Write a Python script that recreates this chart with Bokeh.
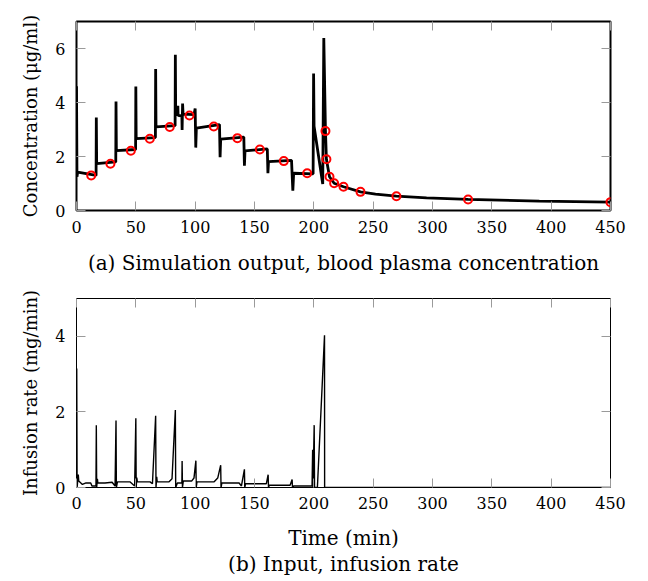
from bokeh.plotting import figure
from bokeh.layouts import column
from bokeh.models import Range1d, LinearAxis, FixedTicker, Title
from bokeh.embed import file_html
from bokeh.resources import INLINE

# ---------------- data ----------------
x_ticks = [0, 50, 100, 150, 200, 250, 300, 350, 400, 450]
conc_ticks = [0, 2, 4, 6]
rate_ticks = [0, 2, 4]

# simulated plasma concentration (time in min, conc in ug/ml)
conc_t = [0, 0.4, 1.0, 16.5, 16.7, 17.0, 33.1, 33.3, 33.6, 49.8, 50.0, 50.3,
          66.5, 66.7, 67.0, 83.1, 83.3, 83.6, 85.2, 85.4, 85.6, 88.8, 89.0,
          89.4, 89.8, 99.0, 100.0, 100.5, 101.0, 120.5, 121.0, 121.5, 141.0,
          141.5, 142.0, 160.8, 161.3, 161.8, 181.2, 182.3, 183.0, 199.4, 199.8,
          200.2, 207.5, 208.4, 209.8, 210.6, 213.2, 217.1, 225.0, 239.3, 252.0,
          269.6, 295.0, 330.0, 390.0, 450.0]
conc_v = [4.60, 1.25, 1.42, 1.30, 3.44, 1.74, 1.80, 4.04, 2.22, 2.26, 4.59, 2.66,
          2.70, 5.24, 3.10, 3.14, 5.77, 3.57, 3.55, 3.88, 3.52, 3.50, 2.98,
          3.96, 3.57, 3.55, 3.78, 2.33, 3.05, 3.18, 1.97, 2.64, 2.72,
          1.66, 2.21, 2.28, 1.38, 1.81, 1.86, 0.73, 1.38, 1.36, 5.07,
          3.12, 0.98, 6.39, 2.94, 1.90, 1.25, 1.01, 0.88, 0.69, 0.61,
          0.53, 0.47, 0.41, 0.35, 0.31]

# measured samples
sample_t = [12.4, 28.6, 45.8, 61.8, 78.6, 95.2, 115.7, 135.6, 154.5, 174.7,
            194.4, 209.8, 210.6, 213.2, 217.1, 225.0, 239.3, 269.6, 330.0, 450.0]
sample_v = [1.30, 1.73, 2.21, 2.66, 3.09, 3.52, 3.11, 2.68, 2.26, 1.83,
            1.38, 2.94, 1.90, 1.25, 1.01, 0.88, 0.69, 0.53, 0.41, 0.31]

# infusion rate (mg/min)
rate_t = [0, 0.2, 0.5, 1.5, 1.9, 5.0, 8.0, 12.0, 13.0, 16.4, 16.7, 17.0, 17.6,
          18.0, 24.0, 30.0, 32.5, 33.3, 33.6, 34.5, 45.0, 49.0, 50.0, 50.3,
          50.8, 51.3, 62.0, 64.0, 66.7, 67.0, 67.6, 68.0, 78.0, 80.5, 83.3,
          83.6, 85.0, 88.8, 89.0, 89.3, 90.0, 97.0, 99.0, 100.6, 100.9, 101.5,
          116.0, 119.0, 121.5, 121.8, 122.5, 137.0, 139.0, 141.5, 141.8, 142.5,
          160.0, 161.5, 161.8, 162.5, 180.0, 181.7, 182.0, 183.0, 198.5, 199.0,
          199.3, 200.3, 200.6, 203.0, 209.0, 209.1, 450.0]
rate_v = [0, 3.15, 0, 0.34, 0.17, 0.08, 0.12, 0.12, 0.04, 0.04, 1.65, 0, 0.23,
          0.12, 0.12, 0.14, 0.04, 1.77, 0, 0.15, 0.15, 0.04, 1.83, 0,
          0.26, 0.15, 0.15, 0.10, 1.90, 0, 0.28, 0.15, 0.15, 0.23, 2.05,
          0, 0.12, 0.12, 0.70, 0, 0.17, 0.17, 0.25, 0.71, 0, 0.15,
          0.15, 0.25, 0.59, 0, 0.12, 0.12, 0.04, 0.48, 0, 0.10,
          0.10, 0.34, 0, 0.06, 0.06, 0.21, 0, 0.04, 0.04, 1.00,
          0, 1.65, 0, 0, 4.03, 0, 0]

FONT = "DejaVu Serif"
TICK_FS = "16px"
LABEL_FS = "18px"
CAP_FS = "20px"
TICK_COLOR = "#9a9a9a"


def style(p, yticks, ylabel, outline_w):
    xax = p.below[0]
    yax = p.left[0]
    p.outline_line_color = "black"
    p.outline_line_width = outline_w
    p.xgrid.visible = False
    p.ygrid.visible = False
    xax.ticker = FixedTicker(ticks=x_ticks)
    yax.ticker = FixedTicker(ticks=yticks)
    yax.axis_label = ylabel
    for ax in (xax, yax):
        ax.axis_line_color = None
        ax.major_tick_in = 9
        ax.major_tick_out = 0
        ax.major_tick_line_color = TICK_COLOR
        ax.minor_tick_line_color = None
        ax.major_label_text_font = FONT
        ax.major_label_text_font_size = TICK_FS
        ax.major_label_text_color = "black"
        ax.axis_label_text_font = FONT
        ax.axis_label_text_font_size = LABEL_FS
        ax.axis_label_text_font_style = "normal"
        ax.axis_label_text_color = "black"
    xax.major_label_standoff = 10
    yax.major_label_standoff = 11
    yax.axis_label_standoff = 11
    # mirrored tick marks on the top and right edges (no labels)
    for loc, ticks in (("above", x_ticks), ("right", yticks)):
        m = LinearAxis(ticker=FixedTicker(ticks=ticks), axis_line_color=None,
                       major_tick_in=9, major_tick_out=0,
                       major_tick_line_color=TICK_COLOR,
                       minor_tick_line_color=None,
                       major_label_overrides={t: "" for t in ticks},
                       major_label_text_font_size="1px",
                       major_label_text_color=None,
                       major_label_standoff=0)
        p.add_layout(m, loc)
    return xax, yax


p1 = figure(frame_width=534, frame_height=189,
            x_range=Range1d(0, 450), y_range=Range1d(0, 7),
            output_backend="svg", toolbar_location=None,
            min_border_left=76, min_border_right=30,
            min_border_top=21, min_border_bottom=76)
x1, y1 = style(p1, conc_ticks, "Concentration (μg/ml)", 2)
x1.axis_label = "(a) Simulation output, blood plasma concentration"
x1.axis_label_text_font_size = CAP_FS
x1.axis_label_standoff = 15
p1.line(conc_t, conc_v, line_color="black", line_width=2.8)
p1.scatter(sample_t, sample_v, marker="circle", size=8, fill_color=None,
           line_color="red", line_width=2)

p2 = figure(frame_width=534, frame_height=189,
            x_range=Range1d(0, 450), y_range=Range1d(0, 5),
            output_backend="svg", toolbar_location=None,
            min_border_left=76, min_border_right=30,
            min_border_top=12, min_border_bottom=90)
x2, y2 = style(p2, rate_ticks, "Infusion rate (mg/min)", 1)
x2.major_label_standoff = 9
x2.axis_label = "Time (min)"
x2.axis_label_text_font_size = CAP_FS
x2.axis_label_standoff = 14
p2.add_layout(Title(text="(b) Input, infusion rate", align="center",
                    text_font=FONT, text_font_size=CAP_FS,
                    text_font_style="normal", text_color="black",
                    standoff=-5), "below")
p2.line(rate_t, rate_v, line_color="black", line_width=1.4)

layout = column(p1, p2, spacing=0)
open("out.html", "w").write(file_html(layout, INLINE))
